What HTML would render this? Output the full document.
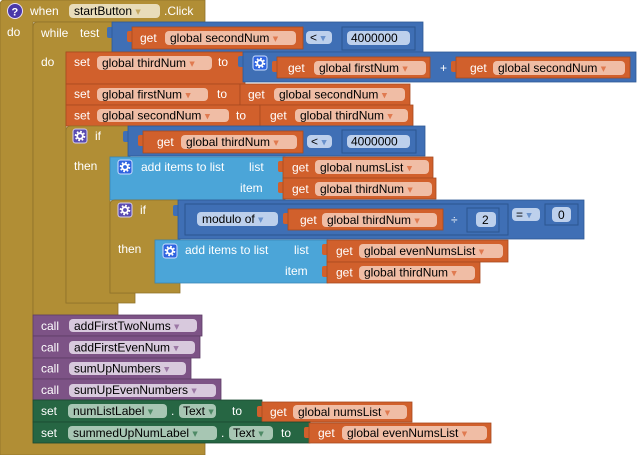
<!DOCTYPE html>
<html><head><meta charset="utf-8"><style>
html,body{margin:0;padding:0;background:#fff;}
svg{display:block;}
text{font-family:"Liberation Sans",Arial,sans-serif;font-size:12px;}
.w{fill:#fff;}
.k{fill:#000;}
.a{font-family:"DejaVu Sans",sans-serif;font-size:7px;}
</style></head><body>
<svg width="640" height="455" viewBox="0 0 640 455" xmlns="http://www.w3.org/2000/svg">
<defs>
<g id="gearP"><rect x="0" y="0" width="14" height="14" rx="2.5" fill="#5A4CB0" stroke="#d8d0f0" stroke-width="1"/><circle cx="7" cy="7" r="4.4" fill="none" stroke="#fff" stroke-width="1.8" stroke-dasharray="1.7 1.75"/><circle cx="7" cy="7" r="2.8" fill="none" stroke="#fff" stroke-width="1.8"/></g>
<g id="gearB"><rect x="0" y="0" width="14" height="14" rx="2.5" fill="#2E63E0" stroke="#cfe0ff" stroke-width="1"/><circle cx="7" cy="7" r="4.4" fill="none" stroke="#fff" stroke-width="1.8" stroke-dasharray="1.7 1.75"/><circle cx="7" cy="7" r="2.8" fill="none" stroke="#fff" stroke-width="1.8"/></g>
</defs>

<!-- Event block -->
<path d="M0,5 Q0,0 5,0 H205 V22 H33 V443 H205 V455 H0 Z" fill="#B18E35" stroke="#8f722a" stroke-width="0.8"/>
<circle cx="15" cy="11" r="7.5" fill="#4A38A8" stroke="#e8e0f8" stroke-width="1"/>
<text x="11.5" y="15.5" class="w" style="font-weight:bold;font-size:11px">?</text>
<text x="30" y="15" class="w">when</text>
<rect x="69" y="4" width="91" height="14" rx="4" fill="#E8DCBA"/>
<text x="74" y="15" class="k">startButton <tspan class="a" fill="#C4A760" dy="-1">▼</tspan></text>
<text x="164" y="15" class="w">.Click</text>
<text x="7" y="36" class="w">do</text>

<!-- While -->
<path d="M33,27 Q33,22 38,22 H118 V52 H66 V303 H118 V315 H33 Z" fill="#B18E35" stroke="#8f722a" stroke-width="0.8"/>
<text x="41" y="37" class="w">while</text>
<text x="80" y="37" class="w">test</text>
<text x="41" y="66" class="w">do</text>

<!-- While condition -->
<rect x="107" y="27" width="8" height="11" rx="2" fill="#3F6FB5"/>
<rect x="112" y="22" width="311" height="30" fill="#3F6FB5" stroke="#2f5a96" stroke-width="0.8"/>
<rect x="127" y="31" width="8" height="11" rx="2" fill="#D1602C"/>
<rect x="132" y="27" width="171" height="22" fill="#D1602C" stroke="#a84a20" stroke-width="0.8"/>
<text x="140" y="42" class="w">get</text>
<rect x="165" y="31" width="131" height="14" rx="4" fill="#F0BDA5"/>
<text x="170" y="42" class="k">global secondNum <tspan class="a" fill="#E07A50" dy="-1">▼</tspan></text>
<rect x="306" y="31" width="26" height="13" rx="4" fill="#BDD0EC"/>
<text x="310" y="41.5" class="k">&lt; <tspan class="a" fill="#6A92CC" dy="-1">▼</tspan></text>
<rect x="342" y="27" width="73" height="23" fill="#3F6FB5" stroke="#2b5590" stroke-width="1"/>
<rect x="347" y="31" width="63" height="14" rx="4" fill="#BDD0EC"/>
<text x="351" y="42" class="k">4000000</text>

<!-- Set row 1 -->
<rect x="66" y="52" width="179" height="32" fill="#D1602C" stroke="#a84a20" stroke-width="0.8"/>
<text x="74" y="66" class="w">set</text>
<rect x="97" y="56" width="115" height="14" rx="4" fill="#F0BDA5"/>
<text x="102" y="67" class="k">global thirdNum <tspan class="a" fill="#E07A50" dy="-1">▼</tspan></text>
<text x="218" y="66" class="w">to</text>
<rect x="238" y="56" width="8" height="11" rx="2" fill="#3F6FB5"/>
<rect x="243" y="52" width="393" height="30" fill="#3F6FB5" stroke="#2f5a96" stroke-width="0.8"/>
<use href="#gearB" x="253" y="56"/>
<rect x="272" y="61" width="8" height="11" rx="2" fill="#D1602C"/>
<rect x="277" y="57" width="153" height="21" fill="#D1602C" stroke="#a84a20" stroke-width="0.8"/>
<text x="288" y="72" class="w">get</text>
<rect x="314" y="61" width="112" height="14" rx="4" fill="#F0BDA5"/>
<text x="319" y="72" class="k">global firstNum <tspan class="a" fill="#E07A50" dy="-1">▼</tspan></text>
<text x="440" y="72" class="w">+</text>
<rect x="451" y="61" width="8" height="11" rx="2" fill="#D1602C"/>
<rect x="456" y="57" width="174" height="21" fill="#D1602C" stroke="#a84a20" stroke-width="0.8"/>
<text x="470" y="72" class="w">get</text>
<rect x="493" y="61" width="132" height="14" rx="4" fill="#F0BDA5"/>
<text x="498" y="72" class="k">global secondNum <tspan class="a" fill="#E07A50" dy="-1">▼</tspan></text>

<!-- Set row 2 -->
<rect x="66" y="84" width="174" height="21" fill="#D1602C" stroke="#a84a20" stroke-width="0.8"/>
<text x="74" y="98" class="w">set</text>
<rect x="97" y="88" width="111" height="13" rx="4" fill="#F0BDA5"/>
<text x="102" y="98.5" class="k">global firstNum <tspan class="a" fill="#E07A50" dy="-1">▼</tspan></text>
<text x="217" y="98" class="w">to</text>
<rect x="240" y="84" width="170" height="21" fill="#D1602C" stroke="#a84a20" stroke-width="0.8"/>
<text x="248" y="98.5" class="w">get</text>
<rect x="274" y="88" width="131" height="13" rx="4" fill="#F0BDA5"/>
<text x="279" y="98.5" class="k">global secondNum <tspan class="a" fill="#E07A50" dy="-1">▼</tspan></text>

<!-- Set row 3 -->
<rect x="66" y="105" width="194" height="21" fill="#D1602C" stroke="#a84a20" stroke-width="0.8"/>
<text x="74" y="119.5" class="w">set</text>
<rect x="97" y="109" width="132" height="13" rx="4" fill="#F0BDA5"/>
<text x="102" y="119.5" class="k">global secondNum <tspan class="a" fill="#E07A50" dy="-1">▼</tspan></text>
<text x="236" y="119.5" class="w">to</text>
<rect x="260" y="105" width="153" height="21" fill="#D1602C" stroke="#a84a20" stroke-width="0.8"/>
<text x="270" y="119.5" class="w">get</text>
<rect x="295" y="109" width="113" height="13" rx="4" fill="#F0BDA5"/>
<text x="300" y="119.5" class="k">global thirdNum <tspan class="a" fill="#E07A50" dy="-1">▼</tspan></text>

<!-- Outer if -->
<path d="M66,131 Q66,126 71,126 H130 V157 H110 V293 H135 V303 H66 Z" fill="#B18E35" stroke="#8f722a" stroke-width="0.8"/>
<use href="#gearP" x="73" y="129"/>
<text x="95" y="140" class="w">if</text>
<text x="74" y="170" class="w">then</text>
<rect x="123" y="131" width="8" height="11" rx="2" fill="#3F6FB5"/>
<rect x="128" y="126" width="297" height="30" fill="#3F6FB5" stroke="#2f5a96" stroke-width="0.8"/>
<rect x="138" y="135" width="8" height="11" rx="2" fill="#D1602C"/>
<rect x="143" y="131" width="160" height="22" fill="#D1602C" stroke="#a84a20" stroke-width="0.8"/>
<text x="157" y="146" class="w">get</text>
<rect x="181" y="135" width="116" height="14" rx="4" fill="#F0BDA5"/>
<text x="186" y="146" class="k">global thirdNum <tspan class="a" fill="#E07A50" dy="-1">▼</tspan></text>
<rect x="307" y="135" width="25" height="13" rx="4" fill="#BDD0EC"/>
<text x="311" y="145.5" class="k">&lt; <tspan class="a" fill="#6A92CC" dy="-1">▼</tspan></text>
<rect x="342" y="130" width="74" height="23" fill="#3F6FB5" stroke="#2b5590" stroke-width="1"/>
<rect x="347" y="135" width="63" height="13" rx="4" fill="#BDD0EC"/>
<text x="351" y="145.5" class="k">4000000</text>

<!-- Add items 1 -->
<rect x="110" y="157" width="175" height="43" fill="#4BA5D8" stroke="#3a88b8" stroke-width="0.8"/>
<use href="#gearB" x="118" y="160"/>
<text x="141" y="171" class="w">add items to list</text>
<text x="249" y="171" class="w">list</text>
<text x="240" y="192" class="w">item</text>
<rect x="278" y="161" width="8" height="11" rx="2" fill="#D1602C"/>
<rect x="283" y="157" width="150" height="21" fill="#D1602C" stroke="#a84a20" stroke-width="0.8"/>
<text x="292" y="171.5" class="w">get</text>
<rect x="315" y="160" width="114" height="14" rx="4" fill="#F0BDA5"/>
<text x="320" y="171.5" class="k">global numsList <tspan class="a" fill="#E07A50" dy="-1">▼</tspan></text>
<rect x="278" y="182" width="8" height="11" rx="2" fill="#D1602C"/>
<rect x="283" y="178" width="153" height="21" fill="#D1602C" stroke="#a84a20" stroke-width="0.8"/>
<text x="292" y="193" class="w">get</text>
<rect x="315" y="182" width="117" height="14" rx="4" fill="#F0BDA5"/>
<text x="320" y="193" class="k">global thirdNum <tspan class="a" fill="#E07A50" dy="-1">▼</tspan></text>

<!-- Inner if -->
<path d="M110,205 Q110,200 115,200 H180 V240 H155 V283 H180 V293 H110 Z" fill="#B18E35" stroke="#8f722a" stroke-width="0.8"/>
<use href="#gearP" x="118" y="203"/>
<text x="140" y="214" class="w">if</text>
<text x="118" y="253" class="w">then</text>
<rect x="173" y="205" width="8" height="11" rx="2" fill="#3F6FB5"/>
<rect x="178" y="200" width="406" height="39" fill="#3F6FB5" stroke="#2f5a96" stroke-width="0.8"/>
<rect x="185" y="204" width="323" height="31" fill="#3F6FB5" stroke="#2b5590" stroke-width="1"/>
<rect x="197" y="212" width="81" height="14" rx="4" fill="#BDD0EC"/>
<text x="202" y="223" class="k">modulo of <tspan class="a" fill="#6A92CC" dy="-1">▼</tspan></text>
<rect x="283" y="213" width="8" height="11" rx="2" fill="#D1602C"/>
<rect x="288" y="209" width="155" height="21" fill="#D1602C" stroke="#a84a20" stroke-width="0.8"/>
<text x="300" y="224" class="w">get</text>
<rect x="322" y="213" width="115" height="14" rx="4" fill="#F0BDA5"/>
<text x="327" y="224" class="k">global thirdNum <tspan class="a" fill="#E07A50" dy="-1">▼</tspan></text>
<text x="451" y="224" class="w">÷</text>
<rect x="467" y="208" width="32" height="24" fill="#3F6FB5" stroke="#2b5590" stroke-width="1"/>
<rect x="476" y="212" width="20" height="15" rx="4" fill="#BDD0EC"/>
<text x="482" y="224" class="k">2</text>
<rect x="512" y="208" width="28" height="13" rx="4" fill="#BDD0EC"/>
<text x="516" y="218.5" class="k">= <tspan class="a" fill="#6A92CC" dy="-1">▼</tspan></text>
<rect x="545" y="204" width="33" height="21" fill="#3F6FB5" stroke="#2b5590" stroke-width="1"/>
<rect x="552" y="207" width="19" height="15" rx="4" fill="#BDD0EC"/>
<text x="558" y="219" class="k">0</text>

<!-- Add items 2 -->
<rect x="155" y="240" width="173" height="43" fill="#4BA5D8" stroke="#3a88b8" stroke-width="0.8"/>
<use href="#gearB" x="163" y="244"/>
<text x="185" y="254" class="w">add items to list</text>
<text x="294" y="254" class="w">list</text>
<text x="285" y="275" class="w">item</text>
<rect x="322" y="244" width="8" height="11" rx="2" fill="#D1602C"/>
<rect x="327" y="240" width="181" height="22" fill="#D1602C" stroke="#a84a20" stroke-width="0.8"/>
<text x="336" y="255" class="w">get</text>
<rect x="359" y="244" width="144" height="14" rx="4" fill="#F0BDA5"/>
<text x="364" y="255" class="k">global evenNumsList <tspan class="a" fill="#E07A50" dy="-1">▼</tspan></text>
<rect x="322" y="266" width="8" height="11" rx="2" fill="#D1602C"/>
<rect x="327" y="262" width="153" height="21" fill="#D1602C" stroke="#a84a20" stroke-width="0.8"/>
<text x="336" y="276.5" class="w">get</text>
<rect x="359" y="266" width="116" height="14" rx="4" fill="#F0BDA5"/>
<text x="364" y="276.5" class="k">global thirdNum <tspan class="a" fill="#E07A50" dy="-1">▼</tspan></text>

<!-- Calls -->
<rect x="33" y="315" width="169" height="21" fill="#7D5386" stroke="#5e3d66" stroke-width="0.8"/>
<text x="41" y="330" class="w">call</text>
<rect x="69" y="319" width="128" height="13" rx="4" fill="#D8C9DD"/>
<text x="74" y="330" class="k">addFirstTwoNums <tspan class="a" fill="#9C78A5" dy="-1">▼</tspan></text>

<rect x="33" y="336" width="167" height="22" fill="#7D5386" stroke="#5e3d66" stroke-width="0.8"/>
<text x="41" y="351.5" class="w">call</text>
<rect x="69" y="341" width="126" height="13" rx="4" fill="#D8C9DD"/>
<text x="74" y="351.5" class="k">addFirstEvenNum <tspan class="a" fill="#9C78A5" dy="-1">▼</tspan></text>

<rect x="33" y="358" width="158" height="21" fill="#7D5386" stroke="#5e3d66" stroke-width="0.8"/>
<text x="41" y="372.5" class="w">call</text>
<rect x="69" y="362" width="117" height="13" rx="4" fill="#D8C9DD"/>
<text x="74" y="372.5" class="k">sumUpNumbers <tspan class="a" fill="#9C78A5" dy="-1">▼</tspan></text>

<rect x="33" y="379" width="188" height="21" fill="#7D5386" stroke="#5e3d66" stroke-width="0.8"/>
<text x="41" y="394" class="w">call</text>
<rect x="69" y="384" width="147" height="13" rx="4" fill="#D8C9DD"/>
<text x="74" y="394" class="k">sumUpEvenNumbers <tspan class="a" fill="#9C78A5" dy="-1">▼</tspan></text>

<!-- Green setters -->
<rect x="33" y="400" width="229" height="22" fill="#266643" stroke="#1b4a30" stroke-width="0.8"/>
<text x="41" y="415" class="w">set</text>
<rect x="68" y="404" width="99" height="14" rx="4" fill="#A7C6B3"/>
<text x="73" y="415" class="k">numListLabel <tspan class="a" fill="#4E8A66" dy="-1">▼</tspan></text>
<text x="171" y="415" class="w">.</text>
<rect x="179" y="404" width="37" height="14" rx="4" fill="#A7C6B3"/>
<text x="183" y="415" class="k">Text <tspan class="a" fill="#4E8A66" dy="-1">▼</tspan></text>
<text x="232" y="415" class="w">to</text>
<rect x="257" y="406" width="8" height="11" rx="2" fill="#D1602C"/>
<rect x="262" y="402" width="150" height="20" fill="#D1602C" stroke="#a84a20" stroke-width="0.8"/>
<text x="270" y="416" class="w">get</text>
<rect x="293" y="405" width="114" height="14" rx="4" fill="#F0BDA5"/>
<text x="298" y="416" class="k">global numsList <tspan class="a" fill="#E07A50" dy="-1">▼</tspan></text>

<rect x="33" y="422" width="277" height="21" fill="#266643" stroke="#1b4a30" stroke-width="0.8"/>
<text x="41" y="437" class="w">set</text>
<rect x="68" y="426" width="149" height="14" rx="4" fill="#A7C6B3"/>
<text x="73" y="437" class="k">summedUpNumLabel <tspan class="a" fill="#4E8A66" dy="-1">▼</tspan></text>
<text x="221" y="437" class="w">.</text>
<rect x="229" y="426" width="44" height="14" rx="4" fill="#A7C6B3"/>
<text x="233" y="437" class="k">Text <tspan class="a" fill="#4E8A66" dy="-1">▼</tspan></text>
<text x="281" y="437" class="w">to</text>
<rect x="304" y="427" width="8" height="11" rx="2" fill="#D1602C"/>
<rect x="309" y="423" width="182" height="20" fill="#D1602C" stroke="#a84a20" stroke-width="0.8"/>
<text x="318" y="437" class="w">get</text>
<rect x="342" y="426" width="145" height="14" rx="4" fill="#F0BDA5"/>
<text x="347" y="437" class="k">global evenNumsList <tspan class="a" fill="#E07A50" dy="-1">▼</tspan></text>
</svg>
</body></html>
